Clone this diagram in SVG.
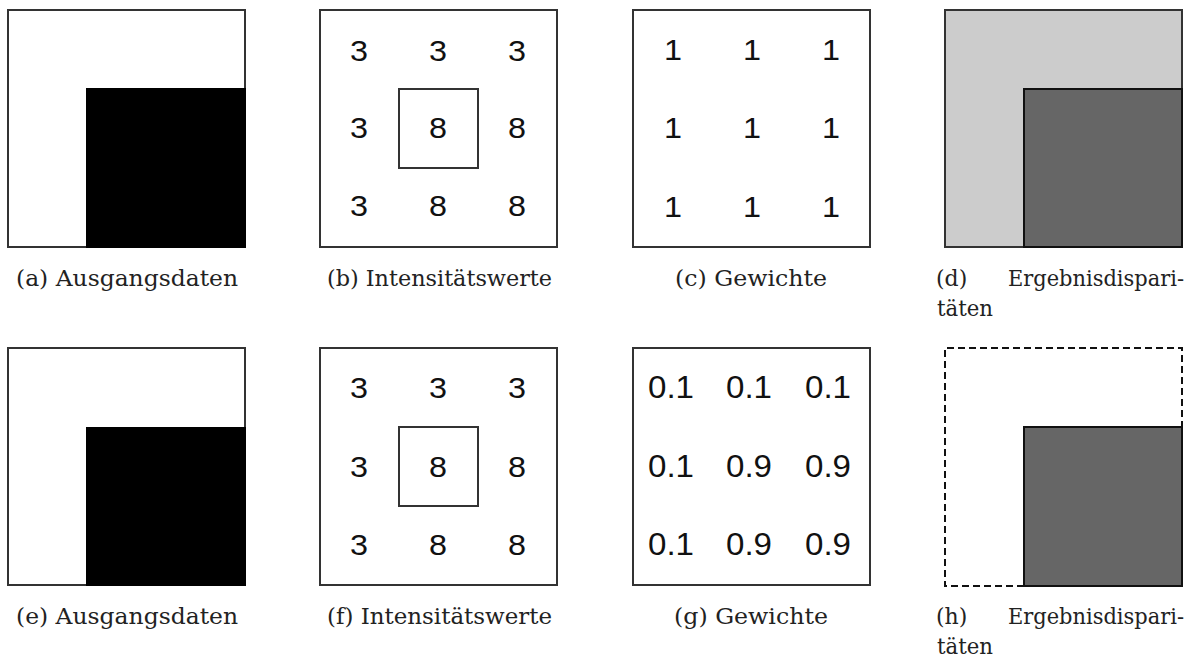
<svg xmlns="http://www.w3.org/2000/svg" width="1198" height="660" viewBox="0 0 1198 660">
<style>
.box{fill:#fff;stroke:#333;stroke-width:2}
.inner{fill:none;stroke:#333;stroke-width:2}
.num{font-family:"Liberation Sans",Arial,sans-serif;fill:#111;text-anchor:middle}
.cap{font-family:"DejaVu Serif","Liberation Serif",serif;font-size:22px;fill:#222}
.black{fill:#000;stroke:none}
.light{fill:#cccccc;stroke:#333;stroke-width:2}
.dark{fill:#666666;stroke:#111;stroke-width:2}
.dash{fill:none;stroke:#111;stroke-width:2;stroke-dasharray:7 4}
</style>
<rect width="1198" height="660" fill="#fff"/>
<g id="a">
<rect class="box" x="8" y="10" width="237" height="237"/>
<rect class="black" x="86" y="88" width="160" height="160"/>
<text class="cap" x="16" y="286" textLength="222" lengthAdjust="spacingAndGlyphs">(a) Ausgangsdaten</text>
</g>
<g id="b">
<rect class="box" x="320" y="10" width="237" height="237"/>
<rect class="inner" x="399" y="89" width="79" height="79"/>
<g class="num" font-size="30">
<text x="359" y="61" textLength="18" lengthAdjust="spacingAndGlyphs">3</text><text x="438" y="61" textLength="18" lengthAdjust="spacingAndGlyphs">3</text><text x="517" y="61" textLength="18" lengthAdjust="spacingAndGlyphs">3</text>
<text x="359" y="138" textLength="18" lengthAdjust="spacingAndGlyphs">3</text><text x="438" y="138" textLength="18" lengthAdjust="spacingAndGlyphs">8</text><text x="517" y="138" textLength="18" lengthAdjust="spacingAndGlyphs">8</text>
<text x="359" y="216" textLength="18" lengthAdjust="spacingAndGlyphs">3</text><text x="438" y="216" textLength="18" lengthAdjust="spacingAndGlyphs">8</text><text x="517" y="216" textLength="18" lengthAdjust="spacingAndGlyphs">8</text>
</g>
<text class="cap" x="327" y="286" textLength="225" lengthAdjust="spacingAndGlyphs">(b) Intensitätswerte</text>
</g>
<g id="c">
<rect class="box" x="633" y="10" width="237" height="237"/>
<g class="num" font-size="30">
<text x="673" y="60" textLength="18" lengthAdjust="spacingAndGlyphs">1</text><text x="752" y="60" textLength="18" lengthAdjust="spacingAndGlyphs">1</text><text x="831" y="60" textLength="18" lengthAdjust="spacingAndGlyphs">1</text>
<text x="673" y="138" textLength="18" lengthAdjust="spacingAndGlyphs">1</text><text x="752" y="138" textLength="18" lengthAdjust="spacingAndGlyphs">1</text><text x="831" y="138" textLength="18" lengthAdjust="spacingAndGlyphs">1</text>
<text x="673" y="217" textLength="18" lengthAdjust="spacingAndGlyphs">1</text><text x="752" y="217" textLength="18" lengthAdjust="spacingAndGlyphs">1</text><text x="831" y="217" textLength="18" lengthAdjust="spacingAndGlyphs">1</text>
</g>
<text class="cap" x="675" y="286" textLength="152" lengthAdjust="spacingAndGlyphs">(c) Gewichte</text>
</g>
<g id="d">
<rect class="light" x="945" y="10" width="237" height="237"/>
<rect class="dark" x="1024" y="89" width="158" height="158"/>
<text class="cap" x="936" y="286">(d)</text>
<text class="cap" x="1008" y="286" textLength="176" lengthAdjust="spacingAndGlyphs">Ergebnisdispari-</text>
<text class="cap" x="937" y="316" textLength="56" lengthAdjust="spacingAndGlyphs">täten</text>
</g>
<g id="e">
<rect class="box" x="8" y="348" width="237" height="237"/>
<rect class="black" x="86" y="427" width="160" height="159"/>
<text class="cap" x="16" y="624" textLength="222" lengthAdjust="spacingAndGlyphs">(e) Ausgangsdaten</text>
</g>
<g id="f">
<rect class="box" x="320" y="348" width="237" height="237"/>
<rect class="inner" x="399" y="427" width="79" height="79"/>
<g class="num" font-size="30">
<text x="359" y="398" textLength="18" lengthAdjust="spacingAndGlyphs">3</text><text x="438" y="398" textLength="18" lengthAdjust="spacingAndGlyphs">3</text><text x="517" y="398" textLength="18" lengthAdjust="spacingAndGlyphs">3</text>
<text x="359" y="477" textLength="18" lengthAdjust="spacingAndGlyphs">3</text><text x="438" y="477" textLength="18" lengthAdjust="spacingAndGlyphs">8</text><text x="517" y="477" textLength="18" lengthAdjust="spacingAndGlyphs">8</text>
<text x="359" y="555" textLength="18" lengthAdjust="spacingAndGlyphs">3</text><text x="438" y="555" textLength="18" lengthAdjust="spacingAndGlyphs">8</text><text x="517" y="555" textLength="18" lengthAdjust="spacingAndGlyphs">8</text>
</g>
<text class="cap" x="327" y="624" textLength="225" lengthAdjust="spacingAndGlyphs">(f) Intensitätswerte</text>
</g>
<g id="g">
<rect class="box" x="633" y="348" width="237" height="237"/>
<g class="num" font-size="31">
<text x="671" y="398" textLength="46" lengthAdjust="spacingAndGlyphs">0.1</text><text x="749" y="398" textLength="46" lengthAdjust="spacingAndGlyphs">0.1</text><text x="828" y="398" textLength="46" lengthAdjust="spacingAndGlyphs">0.1</text>
<text x="671" y="477" textLength="46" lengthAdjust="spacingAndGlyphs">0.1</text><text x="749" y="477" textLength="46" lengthAdjust="spacingAndGlyphs">0.9</text><text x="828" y="477" textLength="46" lengthAdjust="spacingAndGlyphs">0.9</text>
<text x="671" y="555" textLength="46" lengthAdjust="spacingAndGlyphs">0.1</text><text x="749" y="555" textLength="46" lengthAdjust="spacingAndGlyphs">0.9</text><text x="828" y="555" textLength="46" lengthAdjust="spacingAndGlyphs">0.9</text>
</g>
<text class="cap" x="674" y="624" textLength="154" lengthAdjust="spacingAndGlyphs">(g) Gewichte</text>
</g>
<g id="h">
<path class="dash" d="M1024,586 H945 V348 H1182 V427"/>
<rect class="dark" x="1024" y="427" width="158" height="159"/>
<text class="cap" x="936" y="624">(h)</text>
<text class="cap" x="1008" y="624" textLength="176" lengthAdjust="spacingAndGlyphs">Ergebnisdispari-</text>
<text class="cap" x="937" y="654" textLength="56" lengthAdjust="spacingAndGlyphs">täten</text>
</g>
<g id="connectors"/>
</svg>
